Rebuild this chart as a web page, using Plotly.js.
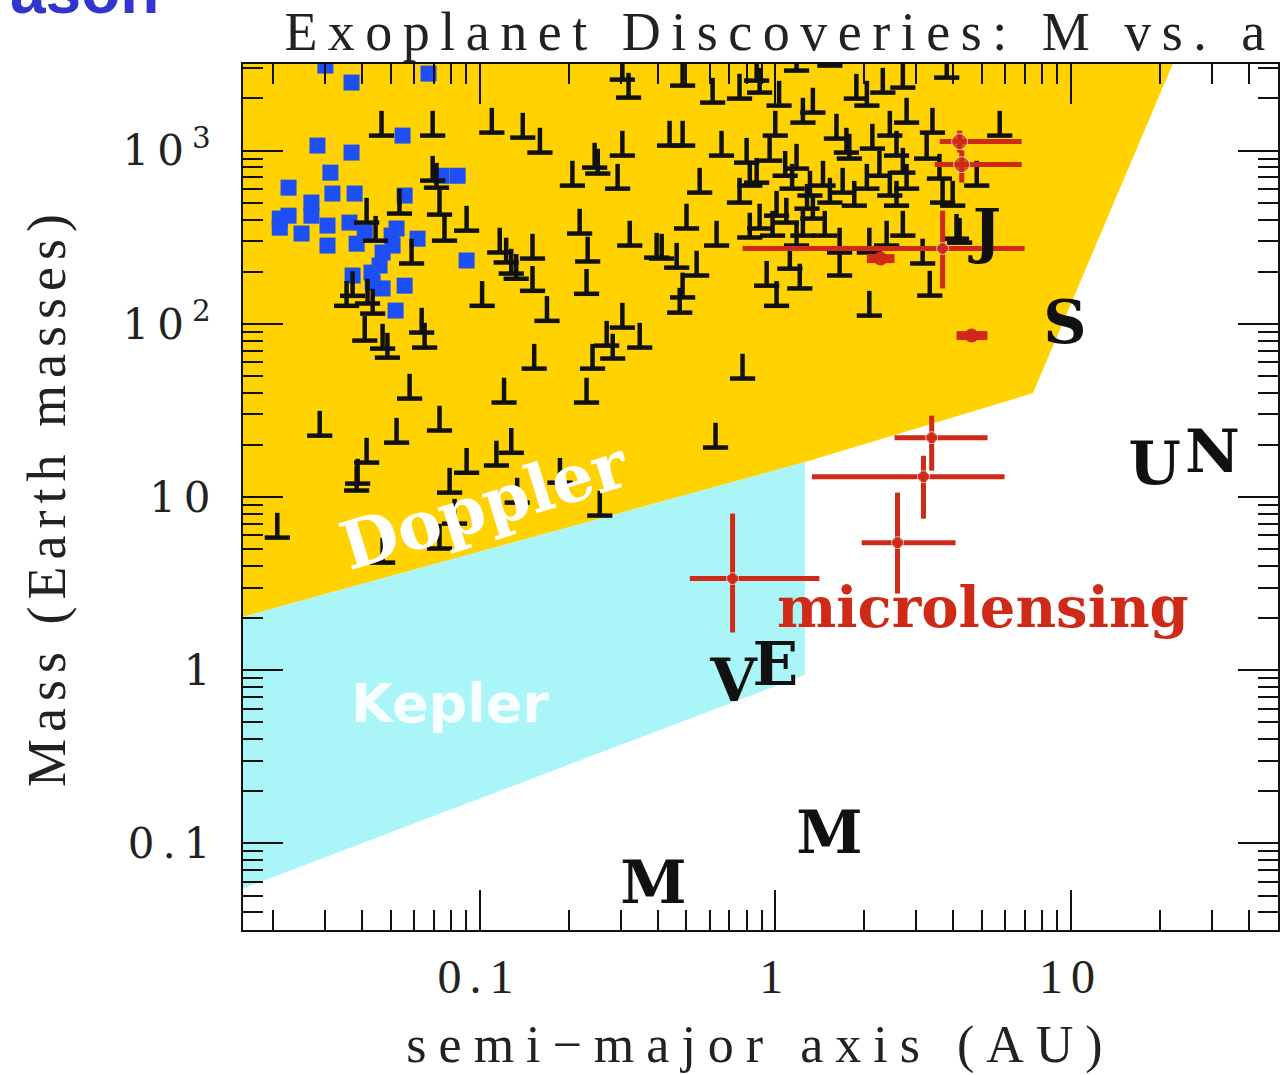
<!DOCTYPE html>
<html><head><meta charset="utf-8">
<script src="https://cdn.plot.ly/plotly-3.0.1.min.js"></script>
<style>
body{margin:0;background:#fff;}
#chart{width:1283px;height:1075px;}
.gtitle{letter-spacing:10.5px;}
.xtitle{letter-spacing:12px;}
.ytitle{letter-spacing:7px;}
.xtick text{letter-spacing:8px;}
.ytick text{letter-spacing:8px;}
</style></head><body><div id="chart"></div>
<script>
// Detection regions (a in AU, M in Earth masses)
const dopplerA = [0.015, 1.26, 7.44, 23.4, 0.015];
const dopplerM = [1.98, 15.9, 39.8, 4000, 4000];
const keplerA = [0.015, 1.26, 1.26, 0.015];
const keplerM = [1.98, 15.9, 0.94, 0.053];

// Doppler (radial velocity) planets, M sin i lower limits
const rvA = [0.0466,0.0694,0.110,0.140,0.160,0.304,0.319,0.304,0.206,0.245,0.251,0.293,0.0694,0.0715,0.0732,0.0761,0.0904,0.0536,0.218,0.322,0.397,0.117,0.123,0.128,0.133,0.151,0.151,0.232,0.230,0.102,0.169,0.0589,0.0355,0.0372,0.0418,0.0435,0.0409,0.0470,0.0488,0.0637,0.0652,0.304,0.269,0.348,0.282,0.241,0.153,0.0580,0.121,0.230,0.0288,0.0524,0.0732,0.0415,0.0387,0.0384,0.0904,0.114,0.128,0.0792,0.187,0.134,0.255,0.0823,0.0732,0.0470,0.0207,0.775,0.628,
0.486,0.614,0.757,0.865,0.885,1.03,1.18,1.53,1.88,2.04,2.31,2.70,2.78,3.80,0.439,0.486,0.555,0.658,0.800,0.820,0.757,0.865,1.0,1.18,1.14,1.24,1.34,1.31,1.28,1.01,0.979,1.09,1.24,1.34,1.53,1.61,1.74,1.69,1.78,2.04,2.13,2.44,2.57,2.57,2.70,2.78,2.44,3.40,3.25,3.59,3.68,3.98,5.74,4.80,2.70,4.20,0.820,0.633,0.501,0.413,0.464,0.542,0.486,0.475,1.65,1.65,2.08,2.38,3.15,3.33,2.08,1.01,0.935,1.21,1.12,4.10,1.08,0.957,1.45,1.18,0.885,1.47,1.85,2.25,0.0415,0.0445];
const rvM = [1221,1221,1270,1189,974,2570,2023,936,628,798,737,603,671,611,427,302,345,433,332,283,241,258,226,195,182,238,155,229,149,127,104,223,127,145,131,114.5,80.0,71.9,63.8,89.0,72.9,95.1,74.8,72.9,63.0,55.1,55.1,37.0,35.1,35.1,22.6,20.6,24.2,15.8,11.95,10.9,13.8,15.2,18.0,10.6,12.1,9.28,7.81,7.02,5.04,4.18,5.83,48.3,19.3,
2373,1893,1996,2536,2162,1819,2897,3096,1996,1819,2162,2311,1451,2639,1069,1069,572,936,852,628,501,653,1221,787,603,1451,1658,550,462,421,323,384,323,405,501,1173,974,572,899,603,1027,1221,936,481,746,603,550,1270,899,689,501,481,1221,628,323,294,315,283,355,238,211,190,142,116,258,190,258,283,223,145.5,111.5,127,166,160,208,310,716,875,628,283,355,323,481,716,384,302];

// Transiting planets (blue squares)
const transitA = [0.0301,0.0369,0.0672,0.0549,0.0283,0.0369,0.0313,0.0226,0.0744,0.0843,0.0318,0.0378,0.0558,0.0270,0.0270,0.0226,0.0211,0.0250,0.0306,0.0363,0.0409,0.0524,0.0617,0.0306,0.0384,0.0508,0.0470,0.0904,0.0372,0.0431,0.0459,0.0558,0.0470,0.0520,0.0435,0.0504,0.0211];
const transitM = [3096,2470,2783,1221,1069,974,746,611,716,716,565,565,550,501,421,421,359,332,369,384,336,355,310,283,290,283,258,232,190,197.5,217,166,160,119.2,173,323,405];

// Microlensing planets with ranges
const mlA   = [4.20, 4.27, 3.68, 3.38, 3.17, 2.59, 0.717];
const mlM   = [1127, 830, 272, 22.0, 13.1, 5.45, 3.38];
const mlAlo = [3.60, 3.46, 0.775, 2.53, 1.33, 1.96, 0.514];
const mlAhi = [6.81, 6.81, 6.97, 5.22, 5.96, 4.07, 1.41];
const mlMlo = [974, 653, 160, 14.2, 7.50, 2.77, 1.65];
const mlMhi = [1305, 1000, 450, 29.5, 17.3, 10.6, 8.02];
const blobA   = [2.27, 4.61];
const blobM   = [238, 85.5];
const blobAlo = [2.04, 4.10];
const blobAhi = [2.53, 5.22];

// Solar-system planets
const planetA = [0.387, 0.723, 1.0, 1.524, 5.2, 9.54, 19.2, 30.1];
const planetM = [0.055, 0.815, 1.0, 0.107, 318, 95.2, 14.5, 17.1];
const planetLabel = ['M','V','E','M','J','S','U','N'];

// Axis ticks
const xTickVals = [0.1, 1, 10];
const xTickText = ['0.1', '1', '10'];
const yTickVals = [0.1, 1, 10, 100, 1000];
const yTickText = ['0.1', '1', '10', '10<sup>2</sup>', '10<sup>3</sup>'];

function minorVals(d0, d1) {
  const out = [];
  for (let d = d0; d <= d1; d++) for (let k = 2; k <= 9; k++) out.push(k * Math.pow(10, d));
  return out;
}

const RED = '#cf2a18';
const INK = '#111';

const traces = [
  {x: dopplerA, y: dopplerM, type: 'scatter', mode: 'lines', fill: 'toself',
   fillcolor: '#ffd200', line: {width: 0, color: '#ffd200'}, hoverinfo: 'skip'},
  {x: keplerA, y: keplerM, type: 'scatter', mode: 'lines', fill: 'toself',
   fillcolor: '#aaf5f7', line: {width: 0, color: '#aaf5f7'}, hoverinfo: 'skip'},
  {x: transitA, y: transitM, type: 'scatter', mode: 'markers',
   marker: {symbol: 'square', size: 16, color: '#1c4ff5', line: {width: 0}}},
  {x: rvA, y: rvM, type: 'scatter', mode: 'markers',
   marker: {symbol: 'line-ew', size: 18, color: INK, line: {width: 4.5, color: INK}},
   error_y: {type: 'percent', symmetric: false, value: 39, valueminus: 0, width: 0, thickness: 4.5, color: INK}},
  {x: mlA, y: mlM, type: 'scatter', mode: 'markers',
   marker: {symbol: 'circle', size: [16,16,12,12,12,12,12], color: RED},
   error_x: {type: 'data', symmetric: false, array: mlA.map((v,i)=>mlAhi[i]-v), arrayminus: mlA.map((v,i)=>v-mlAlo[i]), width: 0, thickness: 5, color: RED},
   error_y: {type: 'data', symmetric: false, array: mlM.map((v,i)=>mlMhi[i]-v), arrayminus: mlM.map((v,i)=>v-mlMlo[i]), width: 0, thickness: 5, color: RED}},
  {x: blobA, y: blobM, type: 'scatter', mode: 'markers',
   marker: {symbol: 'circle', size: 14, color: RED},
   error_x: {type: 'data', symmetric: false, array: blobA.map((v,i)=>blobAhi[i]-v), arrayminus: blobA.map((v,i)=>v-blobAlo[i]), width: 0, thickness: 9, color: RED}},
  {x: planetA, y: planetM, type: 'scatter', mode: 'text', text: planetLabel,
   textposition: 'middle center', cliponaxis: false,
   textfont: {family: 'DejaVu Serif', size: 60, color: INK, weight: 'bold'}}
];

const serif = 'Liberation Serif';
const layout = {
  width: 1283, height: 1075,
  margin: {l: 243, r: 5, t: 64, b: 145},
  paper_bgcolor: '#fff', plot_bgcolor: '#fff',
  showlegend: false,
  title: {text: 'Exoplanet Discoveries: M vs. a', font: {family: serif, size: 54, color: '#222'},
          x: 0.608, xref: 'container', xanchor: 'center', y: 0.9707, yref: 'container', yanchor: 'middle'},
  xaxis: {type: 'log', range: [-1.8, 1.7], tickmode: 'array', tickvals: xTickVals, ticktext: xTickText,
          ticks: 'inside', ticklen: 40, tickwidth: 2, tickcolor: INK,
          showline: true, linewidth: 2, linecolor: INK, mirror: 'allticks',
          showgrid: false, zeroline: false, ticklabelstandoff: 3,
          tickfont: {family: serif, size: 48, color: '#222'},
          minor: {tickmode: 'array', tickvals: minorVals(-2, 1), ticks: 'inside', ticklen: 20, tickwidth: 2, tickcolor: INK, showgrid: false},
          title: {text: 'semi\u2212major axis (AU)', font: {family: serif, size: 52, color: '#222'}, standoff: 24}},
  yaxis: {type: 'log', range: [-1.5, 3.5], tickmode: 'array', tickvals: yTickVals, ticktext: yTickText,
          ticks: 'inside', ticklen: 40, tickwidth: 2, tickcolor: INK,
          showline: true, linewidth: 2, linecolor: INK, mirror: 'allticks',
          showgrid: false, zeroline: false, ticklabelstandoff: 14,
          tickfont: {family: 'DejaVu Serif', size: 42, color: '#222'},
          minor: {tickmode: 'array', tickvals: minorVals(-2, 3), ticks: 'inside', ticklen: 20, tickwidth: 2, tickcolor: INK, showgrid: false},
          title: {text: 'Mass (Earth masses)', font: {family: serif, size: 54, color: '#222'}, standoff: 40}},
  annotations: [
    {xref: 'paper', yref: 'paper', x: 0.2338, y: 0.4908, xanchor: 'center', yanchor: 'middle', text: 'Doppler', showarrow: false, textangle: -17,
     font: {family: 'DejaVu Serif', size: 66, color: '#ffffff', weight: 'bold'}},
    {xref: 'paper', yref: 'paper', x: 0.2, y: 0.2621, xanchor: 'center', yanchor: 'middle', text: 'Kepler', showarrow: false,
     font: {family: 'DejaVu Sans', size: 54, color: 'rgba(255,255,255,0.9)', weight: 'bold'}},
    {xref: 'paper', yref: 'paper', x: 0.715, y: 0.373, xanchor: 'center', yanchor: 'middle', text: 'microlensing', showarrow: false,
     font: {family: 'DejaVu Serif', size: 56, color: RED, weight: 'bold'}},
    {xref: 'paper', yref: 'paper', x: -0.1527, y: 1.040, xanchor: 'center', yanchor: 'bottom', text: 'ason', showarrow: false,
     font: {family: 'Liberation Sans', size: 64, color: '#3434d0', weight: 'bold'}}
  ]
};

Plotly.newPlot('chart', traces, layout, {displayModeBar: false, staticPlot: true});
</script></body></html>
